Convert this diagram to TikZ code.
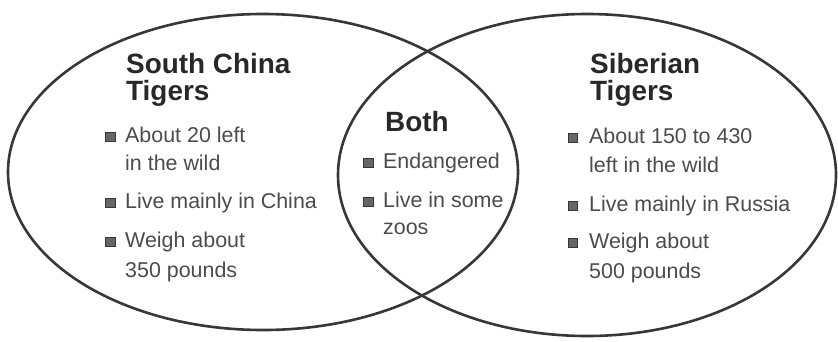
\documentclass[tikz,border=0pt]{standalone}
\usepackage{fontspec}
\setmainfont{Liberation Sans}
\usepackage{tikz}
\usetikzlibrary{shapes.geometric}
\definecolor{myline}{RGB}{55,55,55}
\definecolor{mytitle}{RGB}{40,40,40}
\definecolor{mytext}{RGB}{75,75,75}
\tikzset{
    setshape/.style={ellipse, draw=myline, line width=2.6bp, inner sep=0pt},
    settitle/.style={anchor=base west, inner sep=0pt, text=mytitle,
        font=\fontsize{28}{32}\selectfont\bfseries},
    setitem/.style={anchor=base west, inner sep=0pt, text=mytext,
        font=\fontsize{21.5}{25}\selectfont},
    setbullet/.style={rectangle, draw=myline, fill=mytext!85, line width=0.6bp,
        minimum size=9.5bp, inner sep=0pt},
}
\begin{document}
\begin{tikzpicture}[x=1bp,y=-1bp]
  \useasboundingbox (0,0) rectangle (838,341);
  % the two sets
  \node[setshape, minimum width=510bp, minimum height=316bp] (south) at (263,172) {};
  \node[setshape, minimum width=498bp, minimum height=322bp] (siber) at (587,175) {};
  % South China Tigers
  \node[settitle] (south-t1) at (126,73) {South China};
  \node[settitle] (south-t2) at (126,100) {Tigers};
  \foreach \y [count=\i] in {142,208,247}{
    \node[setbullet] (south-b\i) at (110.5,\y-5) {};
  }
  \foreach \y/\txt [count=\i] in {142/About 20 left, 170/in the wild,
      208/Live mainly in China, 247/Weigh about, 277/350 pounds}{
    \node[setitem] (south-l\i) at (125,\y) {\txt};
  }
  % Both
  \node[settitle] (both-t1) at (385,131) {Both};
  \foreach \y [count=\i] in {168,207}{
    \node[setbullet] (both-b\i) at (368.5,\y-5) {};
  }
  \foreach \y/\txt [count=\i] in {168/Endangered, 207/Live in some, 234/zoos}{
    \node[setitem] (both-l\i) at (383,\y) {\txt};
  }
  % Siberian Tigers
  \node[settitle] (siber-t1) at (590,73) {Siberian};
  \node[settitle] (siber-t2) at (590,100) {Tigers};
  \foreach \y [count=\i] in {143,211,248}{
    \node[setbullet] (siber-b\i) at (573,\y-5) {};
  }
  \foreach \y/\txt [count=\i] in {143/About 150 to 430, 172/left in the wild,
      211/Live mainly in Russia, 248/Weigh about, 278/500 pounds}{
    \node[setitem] (siber-l\i) at (589,\y) {\txt};
  }
\end{tikzpicture}
\end{document}
